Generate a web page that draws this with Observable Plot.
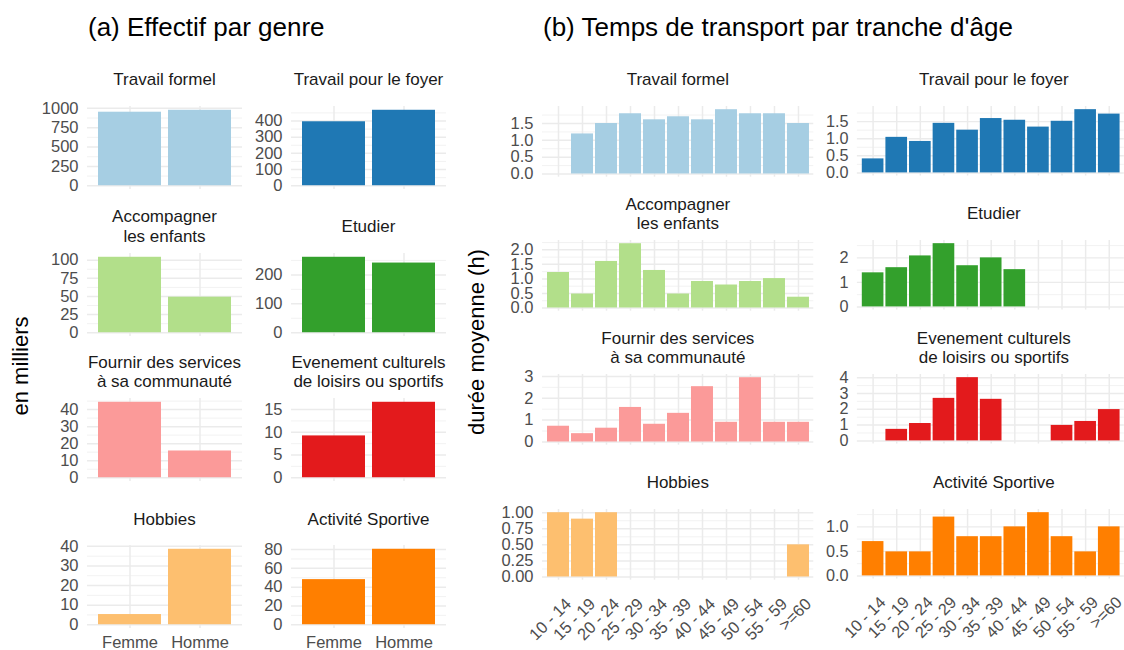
<!DOCTYPE html>
<html><head><meta charset="utf-8">
<script src="https://cdn.jsdelivr.net/npm/d3@7"></script>
<script src="https://cdn.jsdelivr.net/npm/@observablehq/plot@0.6"></script>
<style>
body{margin:0;background:#fff;font-family:"Liberation Sans",Arial,sans-serif;}
#root{position:relative;width:1124px;height:650px;overflow:hidden;background:#fff;}
.plotbox{position:absolute;}
.strip{position:absolute;display:flex;align-items:center;justify-content:center;text-align:center;white-space:pre-line;font-size:17px;line-height:1.12;color:#1a1a1a;}
.title{position:absolute;font-size:26px;line-height:1;color:#000;white-space:nowrap;}
.ytitle{position:absolute;font-size:22px;line-height:1;color:#000;white-space:nowrap;transform:translate(-50%,-50%) rotate(-90deg);}
</style></head><body><div id="root"></div>
<script>
// ---------- data ----------
const activities = ["Travail formel", "Travail pour le foyer", "Accompagner\nles enfants", "Etudier",
  "Fournir des services\nà sa communauté", "Evenement culturels\nde loisirs ou sportifs", "Hobbies", "Activité Sportive"];
const colors = ["#A6CEE3", "#1F78B4", "#B2DF8A", "#33A02C", "#FB9A99", "#E31A1C", "#FDBF6F", "#FF7F00"];

// (a) effectif par genre (milliers)
const genres = ["Femme", "Homme"];
const effectifFemme = [950, 395, 104, 261, 44.3, 9.2, 5.2, 48];
const effectifHomme = [975, 466, 49, 241, 15.7, 16.6, 38.5, 80.3];
const ticksA = [[0,250,500,750,1000],[0,100,200,300,400],[0,25,50,75,100],[0,100,200],
  [0,10,20,30,40],[0,5,10,15],[0,10,20,30,40],[0,20,40,60,80]];

// (b) durée moyenne de transport (h) par tranche d'âge
const ages = ["10 - 14","15 - 19","20 - 24","25 - 29","30 - 34","35 - 39","40 - 44","45 - 49","50 - 54","55 - 59",">=60"];
const dureeTravailFormel = [null,1.19,1.5,1.79,1.61,1.70,1.61,1.91,1.79,1.79,1.5];
const dureeTravailFoyer  = [0.41,1.04,0.92,1.45,1.25,1.59,1.54,1.34,1.51,1.85,1.72];
const dureeAccompagner   = [1.22,0.48,1.6,2.21,1.29,0.48,0.91,0.79,0.91,1.01,0.37];
const dureeEtudier       = [1.39,1.6,2.08,2.58,1.68,2.0,1.52,null,null,null,null];
const dureeServices      = [0.72,0.38,0.63,1.58,0.81,1.31,2.53,0.9,2.94,0.9,0.9];
const dureeEvenement     = [null,0.73,1.1,2.69,4.0,2.63,null,null,0.98,1.23,1.98];
const dureeHobbies       = [1.0,0.9,1.0,null,null,null,null,null,null,null,0.5];
const dureeSport         = [0.7,0.49,0.49,1.2,0.8,0.8,1.0,1.29,0.8,0.49,1.0];
const dureeB = [dureeTravailFormel, dureeTravailFoyer, dureeAccompagner, dureeEtudier,
  dureeServices, dureeEvenement, dureeHobbies, dureeSport];
const ticksB = [[0,0.5,1,1.5],[0,0.5,1,1.5],[0,0.5,1,1.5,2],[0,1,2],[0,1,2,3],[0,1,2,3,4],[0,0.25,0.5,0.75,1],[0,0.5,1]];
const decimalsB = [1,1,1,0,0,0,2,1];

const titleA = "(a) Effectif par genre";
const titleB = "(b) Temps de transport par tranche d'âge";
const yLabelA = "en milliers";
const yLabelB = "durée moyenne (h)";

// ---------- layout ----------
const root = document.getElementById("root");
const FONT = '"Liberation Sans", Arial, sans-serif';
const layoutA = {lefts:[87, 291], tops:[105.5, 252.5, 398, 545.2], w:155, h:83};
const layoutB = {lefts:[542.2, 858.2], tops:[105.5, 240, 374, 509], w:271.3, h:70.7};

function addDiv(cls, text, css) {
  const d = document.createElement("div");
  d.className = cls; d.textContent = text;
  Object.assign(d.style, css);
  root.appendChild(d);
  return d;
}

function facet({cats, values, color, ticks, fmt, left, top, w, h, bottom, rotate, label}) {
  const data = cats.map((c, i) => ({c, v: values[i]})).filter(d => d.v != null);
  const max = d3.max(values);
  const domain = [-0.05 * max, 1.05 * max];
  const step = ticks[1] - ticks[0];
  const minors = d3.range(ticks[0] - step / 2, domain[1], step).filter(t => t > domain[0]);
  const ml = 70;
  const mb = bottom ? (rotate ? 80 : 34) : 0;
  const marks = [
    Plot.ruleY(minors, {stroke: "#f0f0f0", strokeWidth: 0.9}),
    Plot.ruleY(ticks, {stroke: "#ebebeb", strokeWidth: 1.5}),
    Plot.gridX({stroke: "#ebebeb", strokeOpacity: 1, strokeWidth: 1.5}),
    Plot.barY(data, {x: "c", y: "v", fill: color}),
    Plot.axisY({ticks, tickFormat: fmt, tickSize: 0, tickPadding: 9, label: null})
  ];
  if (bottom) {
    marks.push(rotate
      ? Plot.text(cats, {x: d => d, frameAnchor: "bottom", rotate: -45, textAnchor: "end", lineAnchor: "middle", dx: 10, dy: 21})
      : Plot.axisX({tickSize: 0, tickPadding: 8, label: null}));
  }
  const p = Plot.plot({
    width: ml + w, height: h + mb,
    marginLeft: ml, marginRight: 0, marginTop: 0, marginBottom: mb,
    style: {fontSize: "16.5px", fontFamily: FONT, color: "#4d4d4d", background: "transparent", overflow: "visible"},
    x: {type: "band", domain: cats, paddingInner: 0.1, paddingOuter: 0.15, axis: (bottom && !rotate) ? undefined : null},
    y: {domain},
    marks
  });
  const box = document.createElement("div");
  box.className = "plotbox";
  box.style.left = (left - ml) + "px";
  box.style.top = top + "px";
  box.appendChild(p);
  root.appendChild(box);
  addDiv("strip", label, {left: left + "px", width: w + "px", top: (top - 26 - 25) + "px", height: "50px"});
}

activities.forEach((act, i) => {
  const row = Math.floor(i / 2), col = i % 2;
  facet({cats: genres, values: [effectifFemme[i], effectifHomme[i]], color: colors[i],
    ticks: ticksA[i], fmt: d3.format("d"), left: layoutA.lefts[col], top: layoutA.tops[row],
    w: layoutA.w, h: layoutA.h, bottom: row === 3, rotate: false, label: act});
  facet({cats: ages, values: dureeB[i], color: colors[i],
    ticks: ticksB[i], fmt: d3.format("." + decimalsB[i] + "f"), left: layoutB.lefts[col], top: layoutB.tops[row],
    w: layoutB.w, h: layoutB.h, bottom: row === 3, rotate: true, label: act});
});

addDiv("title", titleA, {left: "88px", top: "14px"});
addDiv("title", titleB, {left: "543px", top: "14px"});
addDiv("ytitle", yLabelA, {left: "20.5px", top: "366px"});
addDiv("ytitle", yLabelB, {left: "477px", top: "342px"});
</script></body></html>
